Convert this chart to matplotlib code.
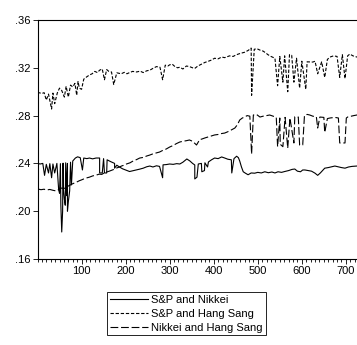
import numpy as np
import matplotlib
matplotlib.use("Agg")
import matplotlib.pyplot as plt
from matplotlib.ticker import MultipleLocator, FuncFormatter

plt.rcParams['font.family'] = ['Liberation Sans', 'DejaVu Sans']
plt.rcParams['font.size'] = 8

spnk_t = [0, 6, 12, 20, 28, 35, 44, 52, 58, 64, 68, 75, 80, 86, 91, 97, 105, 112, 118, 125,
          133, 141, 150, 158, 166, 175, 180, 186, 193, 200, 209, 216, 224, 232, 240, 248, 255,
          262, 270, 277, 285, 292, 300, 308, 316, 323, 330, 339, 346, 352, 357, 365, 372, 380,
          388, 395, 402, 410, 418, 425, 432, 440, 446, 452, 456, 459, 463, 467, 472, 478, 485,
          493, 500, 508, 516, 524, 532, 539, 546, 554, 561, 570, 578, 584, 590, 597, 602, 607,
          614, 622, 630, 636, 642, 652, 660, 668, 675, 682, 690, 698, 706, 714, 725, 740]
spnk_v = [.2400, .2395, .2400, .2392, .2398, .2395, .2400, .2398, .2402, .2405, .2400, .2410,
          .2420, .2445, .2455, .2448, .2445, .2440, .2445, .2438, .2445, .2445, .2440, .2430,
          .2415, .2400, .2385, .2370, .2355, .2345, .2332, .2338, .2345, .2352, .2360, .2372,
          .2378, .2370, .2380, .2375, .2388, .2390, .2395, .2392, .2398, .2395, .2410, .2437,
          .2420, .2400, .2387, .2395, .2400, .2405, .2412, .2430, .2445, .2440, .2454, .2445,
          .2435, .2430, .2440, .2460, .2448, .2420, .2370, .2330, .2318, .2305, .2320, .2318,
          .2325, .2320, .2330, .2322, .2328, .2320, .2330, .2325, .2332, .2340, .2350, .2353,
          .2335, .2330, .2345, .2345, .2340, .2335, .2318, .2300, .2320, .2360, .2365, .2372,
          .2378, .2372, .2365, .2360, .2370, .2375, .2378, .2375]
spnk_spk_t = [16, 25, 32, 39, 48, 50, 53, 55, 57, 59, 61, 63, 66, 68, 70, 73, 77, 102,
              141, 147, 152, 157, 175, 284, 357, 362, 373, 379, 386, 441]
spnk_spk_v = [.230, .232, .228, .232, .218, .215, .205, .1826, .200, .218, .210, .205, .213,
              .200, .208, .217, .222, .2345, .232, .232, .232, .232, .236, .228, .227, .2285,
              .233, .234, .237, .232]

sphs_t = [0, 10, 15, 25, 35, 45, 50, 55, 65, 75, 80, 85, 92, 105, 112, 118, 124, 130, 136,
          141, 147, 157, 162, 168, 180, 190, 197, 203, 209, 216, 225, 233, 240, 248, 255, 262,
          270, 278, 290, 296, 300, 306, 312, 318, 323, 330, 338, 345, 352, 357, 364, 372, 380,
          388, 395, 402, 410, 418, 425, 436, 444, 452, 460, 470, 478, 485, 492, 498, 505, 512,
          518, 523, 530, 539, 550, 561, 572, 577, 588, 600, 612, 625, 630, 645, 658, 664, 672,
          680, 692, 704, 709, 716, 725, 732, 740]
sphs_v = [.2995, .2985, .2992, .2980, .2988, .2990, .3030, .3010, .3045, .3055, .3040, .3070,
          .3085, .3105, .3125, .3140, .3150, .3170, .3160, .3180, .3190, .3185, .3170, .3165,
          .3158, .3150, .3162, .3150, .3160, .3170, .3165, .3172, .3160, .3175, .3180, .3195,
          .3210, .3205, .3222, .3215, .3225, .3230, .3210, .3200, .3205, .3190, .3215, .3210,
          .3200, .3195, .3215, .3230, .3245, .3255, .3265, .3280, .3275, .3290, .3285, .3300,
          .3295, .3310, .3320, .3330, .3345, .3365, .3355, .3360, .3348, .3340, .3325, .3310,
          .3295, .3280, .3295, .3300, .3310, .3305, .3280, .3255, .3250, .3248, .3255, .3250,
          .3270, .3290, .3300, .3295, .3310, .3300, .3315, .3300, .3290, .3300, .3295]
sphs_spk_t = [20, 32, 39, 61, 70, 89, 95, 100, 152, 173, 284, 486, 545, 557, 568, 582, 595,
              609, 636, 652, 686, 698]
sphs_spk_v = [.293, .2855, .290, .2955, .2955, .297, .303, .302, .310, .306, .310, .297, .305,
              .308, .300, .308, .303, .302, .315, .312, .312, .311]

nkhs_t = [0, 8, 15, 20, 28, 35, 43, 50, 55, 60, 66, 72, 80, 89, 95, 100, 105, 111, 118, 125,
          134, 140, 146, 152, 157, 163, 170, 175, 180, 186, 192, 197, 202, 210, 217, 225, 232,
          240, 248, 255, 262, 270, 277, 285, 292, 300, 308, 315, 323, 330, 338, 345, 352, 368,
          374, 380, 388, 395, 402, 410, 418, 425, 432, 440, 448, 454, 459, 465, 470, 476, 482,
          490, 497, 505, 512, 520, 527, 535, 542, 550, 562, 573, 584, 592, 606, 612, 618, 625,
          633, 641, 650, 658, 664, 675, 683, 701, 705, 712, 718, 725, 740]
nkhs_v = [.2186, .2180, .2184, .2177, .2182, .2175, .2169, .2185, .2194, .2190, .2202, .2215,
          .2230, .2244, .2255, .2262, .2270, .2278, .2285, .2295, .2303, .2310, .2308, .2322,
          .2328, .2335, .2345, .2352, .2362, .2370, .2380, .2385, .2395, .2405, .2420, .2432,
          .2445, .2450, .2462, .2470, .2480, .2488, .2495, .2510, .2520, .2537, .2550, .2565,
          .2579, .2585, .2590, .2596, .2585, .2598, .2605, .2613, .2622, .2630, .2638, .2642,
          .2650, .2654, .2665, .2680, .2696, .2725, .2763, .2780, .2788, .2800, .2795, .2805,
          .2810, .2788, .2795, .2800, .2805, .2795, .2785, .2780, .2785, .2780, .2790, .2788,
          .2800, .2810, .2805, .2795, .2790, .2788, .2785, .2775, .2780, .2785, .2780, .2780,
          .2790, .2795, .2800, .2805, .2800]
nkhs_spk_t = [361, 486, 545, 551, 557, 568, 582, 595, 602, 636, 652, 686, 698]
nkhs_spk_v = [.2554, .248, .254, .256, .254, .2529, .2571, .2554, .2554, .2696, .266,
              .2571, .2571]

labels = ['S&P and Nikkei', 'S&P and Hang Sang', 'Nikkei and Hang Sang']


def merge(t, v, st, sv):
    t = np.concatenate([t, st])
    v = np.concatenate([v, sv])
    o = np.argsort(t, kind='stable')
    return t[o], v[o]


fig = plt.figure(figsize=(3.57, 3.45), dpi=100)
ax = fig.add_axes([37.5 / 357, 1 - 259 / 345, 326 / 357, (259 - 20) / 345])

x, y = merge(spnk_t, spnk_v, spnk_spk_t, spnk_spk_v)
ax.plot(x, y, color='black', lw=0.8, label=labels[0])
x, y = merge(sphs_t, sphs_v, sphs_spk_t, sphs_spk_v)
ax.plot(x, y, color='black', lw=0.8, dashes=(3, 1.6), label=labels[1])
x, y = merge(nkhs_t, nkhs_v, nkhs_spk_t, nkhs_spk_v)
ax.plot(x, y, color='black', lw=0.8, dashes=(7, 2.5), label=labels[2])

ax.set_xlim(0, 740)
ax.set_ylim(0.16, 0.36)
ax.set_yticks([0.16, 0.20, 0.24, 0.28, 0.32, 0.36])
ax.yaxis.set_major_formatter(FuncFormatter(lambda v, p: ('%.2f' % v)[1:]))
ax.xaxis.set_major_locator(MultipleLocator(100))
ax.xaxis.set_minor_locator(MultipleLocator(10))
ax.set_xticks([100, 200, 300, 400, 500, 600, 700])
ax.tick_params(axis='both', direction='out', width=0.6, length=3.5, pad=1.5, labelsize=8)
ax.tick_params(axis='x', which='minor', direction='out', width=0.6, length=2)
for s in ax.spines.values():
    s.set_linewidth(0.8)

fig.legend(loc='upper left', bbox_to_anchor=(107 / 357, 1 - 292 / 345), frameon=True,
           fancybox=False, edgecolor='black', framealpha=1, borderpad=0.25,
           labelspacing=0.35, handlelength=3.4, handletextpad=0.35, borderaxespad=0,
           fontsize=8).get_frame().set_linewidth(0.6)

fig.savefig('out.png', dpi=100)
